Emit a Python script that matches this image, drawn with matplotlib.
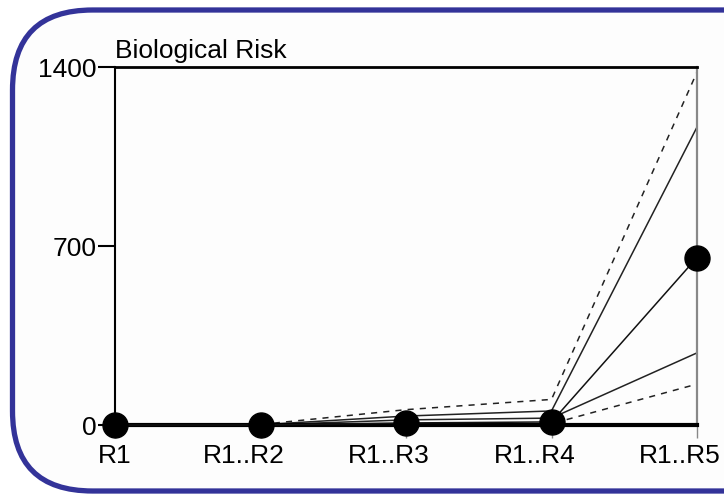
import matplotlib
matplotlib.use("Agg")
import matplotlib.pyplot as plt
from matplotlib.patches import FancyBboxPatch
from matplotlib.transforms import ScaledTranslation

plt.rcParams['font.family'] = ['Liberation Sans', 'DejaVu Sans']

# release stages and risk envelope per stage
stages = ["R1", "R1..R2", "R1..R3", "R1..R4", "R1..R5"]
upper_dashed = [0, 2, 60, 100, 1380]
upper_solid = [0, 1, 35, 55, 1165]
median = [0, 0, 8, 12, 655]
lower_solid = [0, 0, 20, 27, 282]
lower_dashed = [0, 0, 3, 5, 160]
yticks = [0, 700, 1400]

W, H = 724, 494
fig = plt.figure(figsize=(W / 100, H / 100), dpi=100)
fig.patch.set_facecolor("white")

# rounded frame drawn in pixel space
bg = fig.add_axes([0, 0, 1, 1], zorder=0)
bg.set_xlim(0, W)
bg.set_ylim(H, 0)
bg.axis("off")
bg.add_patch(FancyBboxPatch((12.5, 10), 800, 481,
                            boxstyle="round,pad=0,rounding_size=80",
                            fc="#fdfdfd", ec="#333399", lw=3.8))

left, right, top, bottom = 115, 697, 67, 425
ax = fig.add_axes([left / W, (H - bottom) / H, (right - left) / W, (bottom - top) / H], zorder=1)
ax.patch.set_alpha(0)

x = list(range(len(stages)))
lw = 1.1
ax.plot(x, upper_dashed, color="#222222", lw=lw, ls=(0, (4, 4)), clip_on=False)
ax.plot(x, upper_solid, color="#222222", lw=lw, clip_on=False)
ax.plot(x, lower_solid, color="#222222", lw=lw, clip_on=False)
ax.plot(x, lower_dashed, color="#222222", lw=lw, ls=(0, (4, 4)), clip_on=False)
ax.plot(x, median, color="#111111", lw=lw, marker="o", ms=18,
        mfc="black", mec="black", clip_on=False, zorder=5)

ax.set_xlim(0, len(stages) - 1)
ax.set_ylim(0, 1400)

for s in ["left", "top"]:
    ax.spines[s].set_color("black")
ax.spines["left"].set_linewidth(1.5)
ax.spines["top"].set_linewidth(2)
ax.spines["bottom"].set_linewidth(3)
ax.spines["bottom"].set_color("black")
ax.spines["right"].set_color("#888888")
ax.spines["right"].set_linewidth(1.6)

ax.set_yticks(yticks)
ax.set_yticklabels([str(v) for v in yticks])
ax.tick_params(axis="y", length=12, width=1.5, color="black", pad=1, labelsize=19)
ax.set_xticks(x)
ax.set_xticklabels(stages)
ax.tick_params(axis="x", length=9, width=1, color="#888888", pad=5, labelsize=19)
shift = ScaledTranslation(-17 / 100, 0, fig.dpi_scale_trans)
for i, lab in enumerate(ax.get_xticklabels()):
    if i > 0:
        lab.set_transform(lab.get_transform() + shift)

ax.text(0, 1.012, "Biological Risk", transform=ax.transAxes, ha="left", va="bottom",
        fontsize=19)

fig.savefig("out.png", dpi=100)
